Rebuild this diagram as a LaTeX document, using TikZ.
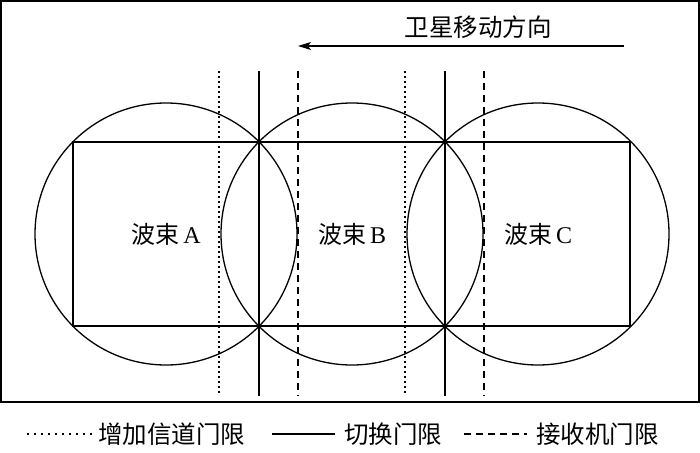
\documentclass[tikz,border=0pt]{standalone}
\usepackage{fontspec}
\setmainfont{Liberation Serif}
\newfontfamily\cjk{Noto Sans CJK SC}
\usetikzlibrary{arrows.meta}
\begin{document}
\begin{tikzpicture}[x=1pt,y=-1pt,
  thin line/.style={line width=1.3pt},
  beam/.style={circle,draw,line width=1.3pt,minimum size=262pt,inner sep=0pt,
    font=\fontsize{24}{26}\selectfont},
  switchline/.style={line width=1.3pt},
  chanline/.style={line width=1.3pt,dash pattern=on 1.5pt off 3.5pt},
  recvline/.style={line width=1.3pt,dash pattern=on 7pt off 5pt},
  lbl/.style={font=\fontsize{24.5}{26}\selectfont\cjk,inner sep=0pt}]
\useasboundingbox (0,0) rectangle (700,452);
% frame
\draw[line width=1.6pt] (1,1) rectangle (699,402);
% direction arrow
\coordinate (arrS) at (624,46);
\coordinate (arrE) at (298,46);
\draw[thin line,-{Stealth[length=13pt,width=8pt,inset=3pt]}] (arrS) -- (arrE);
\node[lbl] (dir) at (478,27) {卫星移动方向};
% beams
\node[beam] (A) at (166,234) {{\cjk 波束}\,A};
\node[beam] (B) at (352,234) {{\cjk 波束}\,B};
\node[beam] (C) at (538,234) {{\cjk 波束}\,C};
% rectangle
\coordinate (r1) at (73,142);
\coordinate (r2) at (630,326);
\draw[thin line] (r1) rectangle (r2);
% threshold lines
\foreach \x/\s in {219/chanline,259/switchline,298/recvline,405/chanline,445/switchline,484/recvline}{
  \coordinate (t\x) at (\x,71);
  \coordinate (b\x) at (\x,396);
  \draw[\s] (t\x) -- (b\x);
}
% legend
\coordinate (l1a) at (27,434); \coordinate (l1b) at (92,434);
\draw[chanline,dash pattern=on 1.5pt off 5.5pt] (l1a) -- (l1b);
\node[lbl,anchor=west] (L1) at (98,434) {增加信道门限};
\coordinate (l2a) at (272,434); \coordinate (l2b) at (335,434);
\draw[switchline] (l2a) -- (l2b);
\node[lbl,anchor=west] (L2) at (344,434) {切换门限};
\coordinate (l3a) at (464,434); \coordinate (l3b) at (527,434);
\draw[recvline] (l3a) -- (l3b);
\node[lbl,anchor=west] (L3) at (536,434) {接收机门限};
\end{tikzpicture}
\end{document}
